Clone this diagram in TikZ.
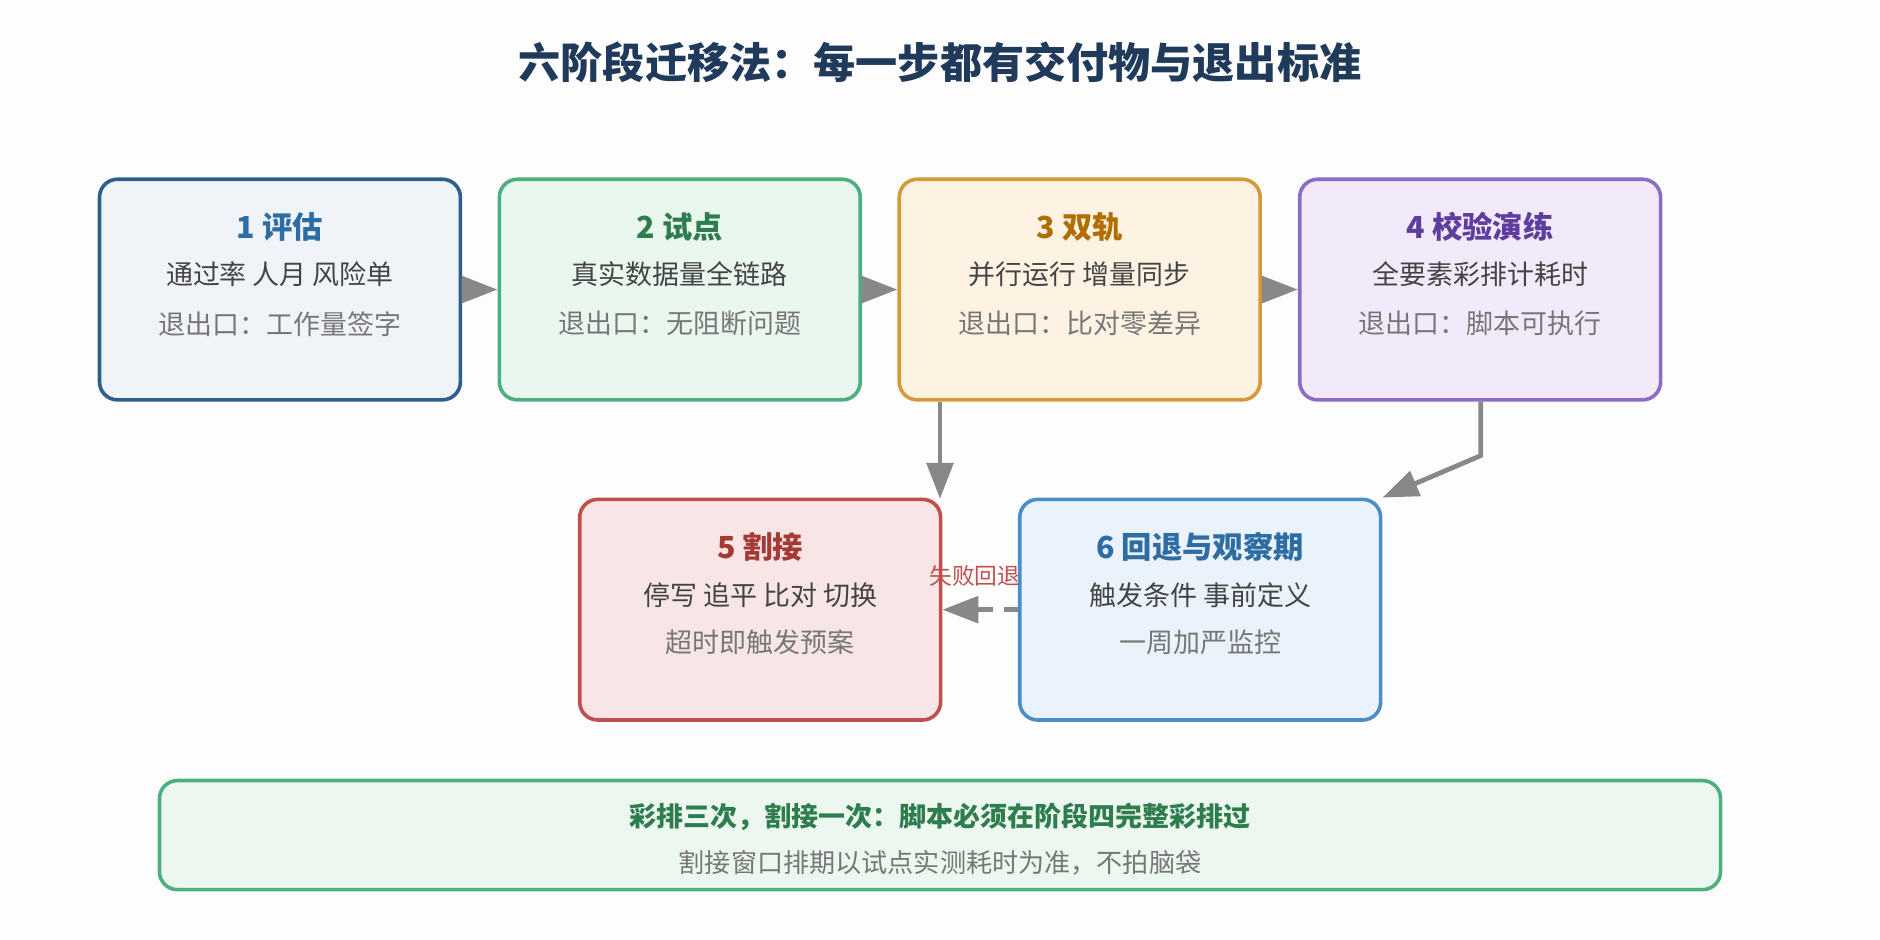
\documentclass[tikz,border=0pt]{standalone}
\usepackage{fontspec}
\setmainfont{Noto Sans CJK SC}
\usetikzlibrary{arrows.meta}
\definecolor{bgc}{HTML}{FDFDFE}
\definecolor{titc}{HTML}{1F3A5A}
\definecolor{txt}{HTML}{444444}
\definecolor{sub}{HTML}{777777}
\definecolor{arr}{HTML}{888888}
\definecolor{b1}{HTML}{2E5E8E}\definecolor{f1}{HTML}{F0F4F8}\definecolor{t1}{HTML}{2E6DA4}
\definecolor{b2}{HTML}{4CAF7D}\definecolor{f2}{HTML}{EAF7EE}\definecolor{t2}{HTML}{2E7D4F}
\definecolor{b3}{HTML}{D4993A}\definecolor{f3}{HTML}{FEF3E2}\definecolor{t3}{HTML}{B06D00}
\definecolor{b4}{HTML}{8C6CC4}\definecolor{f4}{HTML}{F2EAFA}\definecolor{t4}{HTML}{5E3D9E}
\definecolor{b5}{HTML}{C0504D}\definecolor{f5}{HTML}{F8E5E5}\definecolor{t5}{HTML}{A33A36}
\definecolor{b6}{HTML}{4A8EC8}\definecolor{f6}{HTML}{EAF2FB}\definecolor{t6}{HTML}{2E6DA4}
\definecolor{fb}{HTML}{ECF7EF}\definecolor{red}{HTML}{C0504D}
\tikzset{
 box/.style 2 args={draw=#1,fill=#2,line width=0.15cm,rounded corners=0.75cm,minimum width=301*0.05cm,minimum height=184*0.05cm},
 bt/.style={font=\fontsize{36}{40}\selectfont\bfseries,anchor=center},
 l2/.style={font=\fontsize{32}{36}\selectfont,text=txt,anchor=center},
 l3/.style={font=\fontsize{32}{36}\selectfont,text=sub,anchor=center},
 ar/.style={draw=arr,line width=0.2cm,-{Triangle[length=1.5cm,width=1.1cm]}},
}
\begin{document}
\begin{tikzpicture}[x=0.05cm,y=-0.05cm]
\fill[bgc] (0,0) rectangle (1568,784);
\useasboundingbox (0,0) rectangle (1568,784);
\node[font=\fontsize{50}{56}\selectfont\bfseries,text=titc] (title) at (784,52) {六阶段迁移法：每一步都有交付物与退出标准};
\node[box={b1}{f1}] (s1) at (233.5,241.5) {};
\node[box={b2}{f2}] (s2) at (567,241.5) {};
\node[box={b3}{f3}] (s3) at (900.5,241.5) {};
\node[box={b4}{f4}] (s4) at (1234.5,241.5) {};
\node[box={b5}{f5}] (s5) at (634,508.5) {};
\node[box={b6}{f6}] (s6) at (1001,508.5) {};
\node[draw=b2,fill=fb,line width=0.15cm,rounded corners=0.75cm,minimum width=1302*0.05cm,minimum height=91*0.05cm] (sb) at (784,696.5) {};
% texts
\node[bt,text=t1] (s1t) at (233.5,189) {1 评估};
\node[l2] (s1l) at (233.5,229) {通过率 人月 风险单};
\node[l3] (s1m) at (233.5,270) {退出口：工作量签字};
\node[bt,text=t2] (s2t) at (567,189) {2 试点};
\node[l2] (s2l) at (567,229) {真实数据量全链路};
\node[l3] (s2m) at (567,270) {退出口：无阻断问题};
\node[bt,text=t3] (s3t) at (900.5,189) {3 双轨};
\node[l2] (s3l) at (900.5,229) {并行运行 增量同步};
\node[l3] (s3m) at (900.5,270) {退出口：比对零差异};
\node[bt,text=t4] (s4t) at (1234.5,189) {4 校验演练};
\node[l2] (s4l) at (1234.5,229) {全要素彩排计耗时};
\node[l3] (s4m) at (1234.5,270) {退出口：脚本可执行};
\node[bt,text=t5] (s5t) at (634,456) {5 割接};
\node[l2] (s5l) at (634,496) {停写 追平 比对 切换};
\node[l3] (s5m) at (634,536) {超时即触发预案};
\node[bt,text=t6] (s6t) at (1001,456) {6 回退与观察期};
\node[l2] (s6l) at (1001,496) {触发条件 事前定义};
\node[l3] (s6m) at (1001,536) {一周加严监控};
\node[bt,text=t2,font=\fontsize{32}{36}\selectfont\bfseries] (sbt) at (784,681) {彩排三次，割接一次：脚本必须在阶段四完整彩排过};
\node[l3,font=\fontsize{31}{36}\selectfont] (sbl) at (784,720) {割接窗口排期以试点实测耗时为准，不拍脑袋};
% arrows
\draw[ar] (s1.east) -- (s2.west);
\draw[ar] (s2.east) -- (s3.west);
\draw[ar] (s3.east) -- (s4.west);
\draw[ar] (s3.south -| 784,0) -- (784,416);
\coordinate (k) at (1235,380);
\draw[ar] (s4.south -| 1235,0) -- (k) -- (s6.north east);
\draw[ar,dash pattern=on 0.6cm off 0.45cm] (s6.west) -- (s5.east);
\node[font=\fontsize{27}{30}\selectfont,text=red] (lab) at (813,480) {失败回退};
\end{tikzpicture}
\end{document}
